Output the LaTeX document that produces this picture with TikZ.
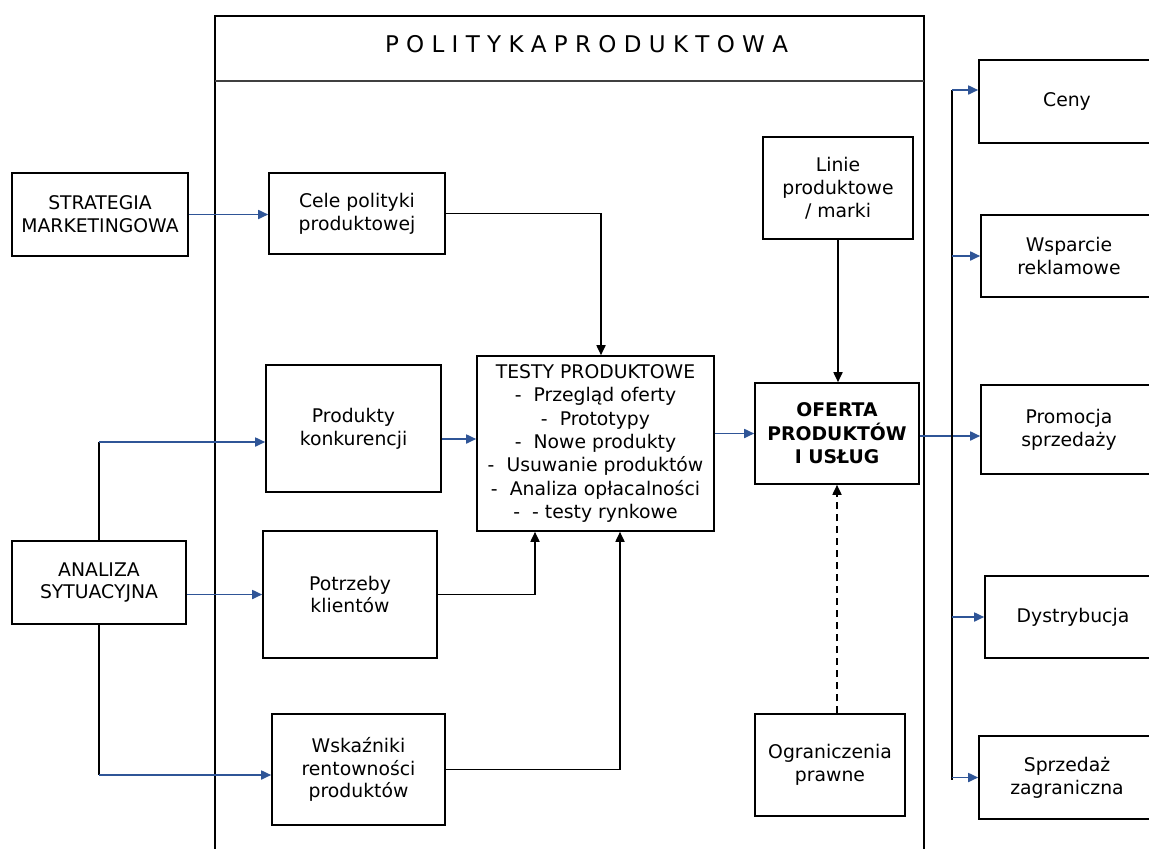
\documentclass[tikz,border=0pt]{standalone}
\usepackage{fontspec}
\setmainfont{DejaVu Sans}
\usetikzlibrary{arrows.meta}
\definecolor{flowblue}{RGB}{47,85,151}

\begin{document}
\begin{tikzpicture}[x=1pt,y=-1pt,
    box/.style={draw, line width=1.6pt, inner sep=2pt, align=center,
      font=\fontsize{18.8}{22.8}\selectfont},
    tip/.style={-{Triangle[length=10pt,width=9pt]}},
    link/.style={tip, line width=1.7pt},
    flow/.style={link, draw=flowblue}]
      \useasboundingbox (0,0) rectangle (1149,849);
      \clip (0,0) rectangle (1149,849);
      % frame of the product policy
      \draw[line width=2.5pt] (215,870) -- (215,16) -- (924,16) -- (924,870);
      \draw[line width=1.2pt, black!75] (215,81) -- (924,81);
      \node (title) at (586.5,44.5) [font=\fontsize{23}{23}\selectfont] {P O L I T Y K A P R O D U K T O W A};

      \node (strat) at (100,214.5) [box, minimum width=176pt, minimum height=83pt] {STRATEGIA\\MARKETINGOWA};
      \node (analiza) at (99,582.5) [box, minimum width=174pt, minimum height=83pt] {ANALIZA\\SYTUACYJNA};
      \node (cele) at (357,213.5) [box, minimum width=176pt, minimum height=81pt] {Cele polityki\\produktowej};
      \node (konk) at (353.5,428.5) [box, minimum width=175pt, minimum height=127pt] {Produkty\\konkurencji};
      \node (potrz) at (350,594.5) [box, minimum width=174pt, minimum height=127pt] {Potrzeby\\klientów};
      \node (wsk) at (358.5,769.5) [box, minimum width=173pt, minimum height=111pt] {Wskaźniki\\rentowności\\produktów};
      \node (testy) at (595.5,443.5) [box, minimum width=237pt, minimum height=175pt, font=\fontsize{18.8}{23.4}\selectfont]
        {TESTY PRODUKTOWE\\-\hspace{12pt}Przegląd oferty\\-\hspace{12pt}Prototypy\\-\hspace{12pt}Nowe produkty\\
         -\hspace{12pt}Usuwanie produktów\\-\hspace{12pt}Analiza opłacalności\\-\hspace{12pt}- testy rynkowe};
      \node (oferta) at (837,433.5) [box, minimum width=164pt, minimum height=101pt, font=\fontsize{18.8}{23.4}\selectfont\bfseries]
        {OFERTA\\PRODUKTÓW\\I USŁUG};
      \node (linie) at (838,188) [box, minimum width=150pt, minimum height=102pt] {Linie\\produktowe\\/ marki};
      \node (ogr) at (830,765) [box, minimum width=150pt, minimum height=102pt] {Ograniczenia\\prawne};

      % instruments on the right
      \node (ceny) at (1067,101.5) [box, minimum width=176pt, minimum height=83pt] {Ceny};
      \node (wsp) at (1069,256) [box, minimum width=176pt, minimum height=82pt] {Wsparcie\\reklamowe};
      \node (prom) at (1069,429.5) [box, minimum width=176pt, minimum height=89pt] {Promocja\\sprzedaży};
      \node (dyst) at (1073,617) [box, minimum width=176pt, minimum height=82pt] {Dystrybucja};
      \node (sprz) at (1067,777.5) [box, minimum width=176pt, minimum height=83pt] {Sprzedaż\\zagraniczna};

      \coordinate (kin) at ([yshift=-13.5pt]konk.west);
      \coordinate (win) at ([yshift=-5.5pt]wsk.west);
      \coordinate (tin1) at ([xshift=-60.5pt]testy.south);
      \coordinate (tin2) at ([xshift=24.5pt]testy.south);
      \coordinate (bustop) at (952,90);
      \coordinate (busbot) at (952,780);

      \draw[flow] (strat.east) -- (strat.east -| cele.west);
      \draw[line width=1.7pt] (analiza.north) -- (analiza.north |- kin);
      \draw[flow] (analiza.north |- kin) -- (kin);
      \draw[flow] (analiza.east |- potrz.west) -- (potrz.west);
      \draw[line width=1.7pt] (analiza.south) -- (analiza.south |- win);
      \draw[flow] (analiza.south |- win) -- (win);
      \draw[flow] ([yshift=-10.5pt]konk.east) -- ([yshift=-10.5pt]konk.east -| testy.west);
      \draw[link] (cele.east) -| ([xshift=5.5pt]testy.north);
      \draw[link] (potrz.east) -| (tin1);
      \draw[link] (wsk.east) -| (tin2);
      \draw[flow] (testy.east |- oferta.west) -- (oferta.west);
      \draw[link] (linie.south) -- (linie.south |- oferta.north);
      \draw[link, dash pattern=on 7pt off 5pt] (oferta.south |- ogr.north) -- (oferta.south);
      \draw[flow] ([yshift=-2.5pt]oferta.east) -- ([yshift=-2.5pt]oferta.east -| prom.west);

      \draw[line width=1.7pt] (bustop) -- (busbot);
      \draw[flow] (bustop) -- (bustop -| ceny.west);
      \foreach \n in {wsp,dyst,sprz} {
        \draw[flow] (bustop |- \n.west) -- (\n.west);
      }
\end{tikzpicture}
\end{document}
